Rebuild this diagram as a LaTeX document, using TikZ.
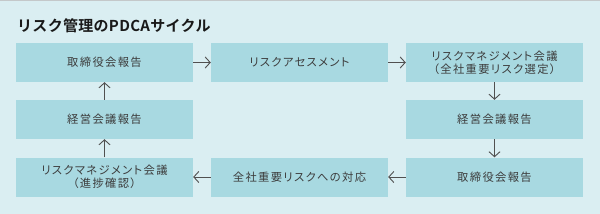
\documentclass[tikz,border=0pt]{standalone}
\usepackage{fontspec}
\setmainfont{Noto Sans CJK JP}[LetterSpace=12,RawFeature=+palt]
\newfontfamily\titlefont{Noto Sans CJK JP Bold}[LetterSpace=2]
\usetikzlibrary{arrows.meta}
\definecolor{bgc}{HTML}{DAEEF2}
\definecolor{boxc}{HTML}{A8D9E1}
\definecolor{txtc}{HTML}{3C3C3C}
\definecolor{arrc}{HTML}{505050}
\definecolor{linec}{HTML}{C4C8CA}
\tikzset{
  stepbox/.style={rectangle, fill=boxc, minimum width=177pt, minimum height=39pt,
    inner sep=0pt, text=txtc, font=\fontsize{11.3}{13}\selectfont, align=center},
  flowarrow/.style={draw=arrc, line width=0.9pt, -{Straight Barb[length=5pt,width=11pt,line width=0.9pt]}}
}
\begin{document}
\begin{tikzpicture}[x=1pt,y=-1pt]
\useasboundingbox (0,0) rectangle (600,214);
\fill[bgc] (0,0) rectangle (600,214);
\draw[linec, line width=1.3pt] (0,0.65) -- (600,0.65);
\node[anchor=base west, inner sep=0pt, text=black!90, font=\titlefont\fontsize{15}{17}\selectfont] (title) at (17,31) {リスク管理のPDCAサイクル};
\node[stepbox] (a1) at (104.5,62.5) {取締役会報告};
\node[stepbox] (a2) at (299.5,62.5) {リスクアセスメント};
\node[stepbox] (a3) at (494.5,62.5) {リスクマネジメント会議\\（全社重要リスク選定）};
\node[stepbox] (b1) at (104.5,119.5) {経営会議報告};
\node[stepbox] (b3) at (494.5,119.5) {経営会議報告};
\node[stepbox] (c1) at (104.5,177) {リスクマネジメント会議\\（進捗確認）};
\node[stepbox] (c2) at (299.5,177) {全社重要リスクへの対応};
\node[stepbox] (c3) at (494.5,177) {取締役会報告};
\draw[flowarrow] (a1) -- (a2);
\draw[flowarrow] (a2) -- (a3);
\draw[flowarrow] (a3) -- (b3);
\draw[flowarrow] (b3) -- (c3);
\draw[flowarrow] (c3) -- (c2);
\draw[flowarrow] (c2) -- (c1);
\draw[flowarrow] (c1) -- (b1);
\draw[flowarrow] (b1) -- (a1);
\end{tikzpicture}
\end{document}
